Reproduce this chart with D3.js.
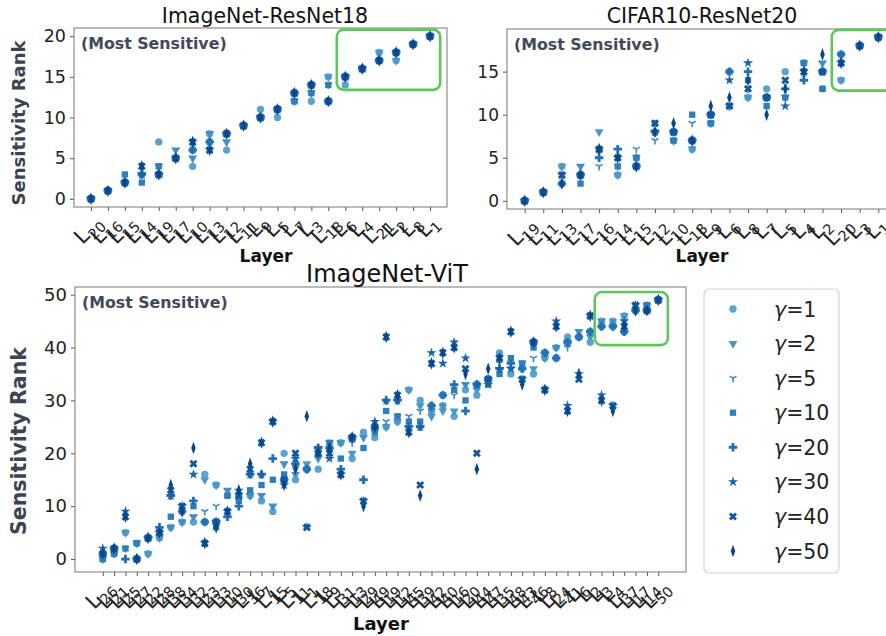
<!DOCTYPE html>
<html lang="en">
<head>
<meta charset="utf-8" />
<title>Sensitivity Rank</title>
<style>
html, body {
	margin: 0;
	padding: 0;
	background: #fff;
}
svg {
	display: block;
	font-family: "DejaVu Sans", sans-serif;
}
</style>
</head>
<body>
<svg width="886" height="636"></svg>

<script src="https://cdn.jsdelivr.net/npm/d3@7"></script>
<script>
// γ values, one series each
var gammas = [1, 2, 5, 10, 20, 30, 40, 50];

// ImageNet-ResNet18 : layer order on x, then ranks per layer (γ order as above)
var r18Layers = ["20", "16", "15", "14", "19", "17", "10", "13", "12", "11", "9",
	"5", "7", "3", "18", "6", "4", "21", "2", "8", "1"];
var r18Ranks = [
	[0, 0, 0, 0, 0, 0, 0, 0],
	[1, 1, 1, 1, 1, 1, 1, 1],
	[2, 2, 2, 3, 2, 2, 2, 2],
	[3, 3, 3, 2, 3, 3, 4, 4],
	[7, 4, 4, 4, 3, 3, 3, 3],
	[5, 6, 6, 5, 5, 5, 5, 5],
	[4, 5, 5, 6, 6, 7, 7, 7],
	[8, 8, 8, 7, 7, 6, 6, 6],
	[6, 7, 7, 8, 8, 8, 8, 8],
	[9, 9, 9, 9, 9, 9, 9, 9],
	[11, 10, 10, 10, 10, 10, 10, 10],
	[10, 11, 11, 11, 11, 11, 11, 11],
	[12, 12, 12, 12, 13, 13, 13, 13],
	[12, 13, 13, 13, 14, 14, 14, 14],
	[15, 15, 14, 14, 12, 12, 12, 12],
	[14, 15, 15, 15, 15, 15, 15, 15],
	[16, 16, 16, 16, 16, 16, 16, 16],
	[18, 18, 17, 17, 17, 17, 17, 17],
	[17, 17, 18, 18, 18, 18, 18, 18],
	[19, 19, 19, 19, 19, 19, 19, 19],
	[20, 20, 20, 20, 20, 20, 20, 20]
];

// CIFAR10-ResNet20
var r20Layers = ["19", "11", "13", "17", "16", "14", "15", "12", "10", "18", "9",
	"6", "8", "7", "5", "4", "2", "20", "3", "1"];
var r20Ranks = [
	[0, 0, 0, 0, 0, 0, 0, 0],
	[1, 1, 1, 1, 1, 1, 1, 1],
	[4, 4, 3, 2, 2, 3, 3, 2],
	[3, 4, 4, 2, 3, 3, 3, 3],
	[6, 8, 4, 6, 5, 6, 6, 6],
	[3, 3, 4, 4, 6, 5, 5, 5],
	[5, 5, 6, 5, 4, 4, 4, 4],
	[8, 8, 7, 9, 8, 8, 9, 8],
	[7, 7, 7, 7, 8, 8, 8, 9],
	[6, 6, 9, 10, 7, 7, 7, 7],
	[9, 9, 10, 9, 10, 10, 10, 11],
	[11, 11, 11, 15, 15, 14, 11, 12],
	[12, 12, 13, 14, 15, 16, 13, 14],
	[13, 12, 12, 11, 12, 12, 12, 10],
	[15, 12, 12, 12, 13, 11, 14, 13],
	[16, 16, 15, 16, 14, 15, 15, 15],
	[13, 16, 16, 13, 15, 15, 15, 17],
	[14, 14, 17, 17, 17, 16, 16, 16],
	[18, 18, 18, 18, 18, 18, 18, 18],
	[19, 19, 19, 19, 19, 19, 19, 19]
];

// ImageNet-ViT
var vitLayers = ["26", "21", "25", "27", "22", "28", "38", "34", "32", "23", "33",
	"10", "30", "36", "7", "15", "5", "11", "1", "18", "9", "31", "13", "29", "49",
	"19", "12", "45", "39", "42", "40", "16", "20", "44", "47", "35", "48", "43",
	"46", "8", "24", "41", "6", "2", "3", "4", "37", "17", "14", "50"];
var vitRanks = [
	[0, 0, 1, 0, 1, 2, 1, 1],
	[1, 1, 1, 1, 2, 2, 2, 2],
	[5, 5, 2, 2, 0, 9, 8, 8],
	[3, 3, 3, 3, 0, 0, 0, 0],
	[1, 1, 4, 4, 4, 4, 4, 4],
	[4, 4, 5, 5, 6, 5, 5, 5],
	[6, 6, 6, 8, 12, 12, 13, 14],
	[7, 7, 7, 9, 9, 10, 10, 9],
	[7, 8, 8, 10, 11, 16, 18, 21],
	[16, 15, 9, 7, 7, 3, 3, 3],
	[14, 14, 10, 6, 7, 7, 7, 6],
	[12, 13, 13, 12, 8, 9, 9, 9],
	[12, 12, 11, 11, 10, 13, 12, 13],
	[12, 12, 12, 13, 16, 16, 17, 18],
	[11, 12, 12, 14, 16, 16, 22, 22],
	[9, 10, 10, 15, 19, 26, 26, 26],
	[20, 18, 18, 16, 15, 14, 15, 14],
	[15, 16, 17, 18, 18, 19, 20, 17],
	[17, 18, 17, 17, 17, 6, 6, 27],
	[17, 19, 20, 20, 21, 21, 20, 20],
	[21, 22, 22, 22, 21, 19, 20, 21],
	[22, 22, 22, 19, 17, 16, 16, 16],
	[19, 20, 22, 23, 23, 23, 23, 23],
	[24, 23, 23, 21, 15, 11, 11, 10],
	[23, 24, 24, 24, 25, 26, 25, 25],
	[25, 25, 26, 28, 30, 30, 42, 42],
	[26, 26, 27, 27, 30, 30, 31, 31],
	[32, 32, 27, 26, 25, 25, 24, 24],
	[30, 29, 28, 26, 25, 25, 14, 12],
	[28, 27, 28, 29, 29, 39, 37, 37],
	[29, 28, 29, 31, 31, 37, 39, 39],
	[27, 28, 31, 32, 33, 41, 40, 40],
	[32, 33, 33, 30, 28, 38, 36, 35],
	[31, 32, 33, 33, 33, 33, 20, 17],
	[34, 34, 34, 33, 34, 33, 34, 36],
	[39, 38, 37, 35, 36, 36, 38, 38],
	[35, 36, 37, 38, 37, 36, 43, 43],
	[36, 37, 36, 37, 36, 34, 34, 33],
	[35, 36, 38, 40, 41, 41, 41, 41],
	[38, 38, 39, 39, 39, 32, 32, 32],
	[40, 40, 40, 38, 38, 45, 44, 44],
	[42, 41, 40, 41, 41, 29, 28, 28],
	[42, 43, 43, 42, 42, 35, 34, 35],
	[41, 42, 43, 43, 43, 46, 46, 46],
	[45, 45, 45, 44, 44, 31, 30, 30],
	[45, 44, 45, 44, 44, 29, 29, 28],
	[46, 46, 45, 43, 43, 45, 44, 44],
	[47, 47, 47, 47, 47, 48, 48, 47],
	[48, 48, 48, 48, 47, 47, 47, 47],
	[49, 49, 49, 49, 49, 49, 49, 49]
];

var svg = d3.select("svg");

// tri_down marker ("1" in matplotlib) is drawn with strokes
var triDown = {
	draw: function(ctx, size) {
		var r = Math.sqrt(size) * 0.9;
		ctx.moveTo(0, 0); ctx.lineTo(0, r);
		ctx.moveTo(0, 0); ctx.lineTo(-r * 0.87, -r * 0.5);
		ctx.moveTo(0, 0); ctx.lineTo(r * 0.87, -r * 0.5);
	}
};

// colours and marker shapes per γ (matplotlib o v 1 s P * X d)
var colors = [0.55, 0.6, 0.65, 0.7, 0.75, 0.8, 0.85, 0.92].map(d3.interpolateBlues);
var markers = [
	{ type: d3.symbolCircle, size: 42, rot: 0 },
	{ type: d3.symbolTriangle, size: 34, rot: 180 },
	{ type: triDown, size: 20, rot: 0, stroke: true },
	{ type: d3.symbolSquare, size: 40, rot: 0 },
	{ type: d3.symbolCross, size: 40, rot: 0 },
	{ type: d3.symbolStar, size: 32, rot: 0 },
	{ type: d3.symbolCross, size: 40, rot: 45 },
	{ type: d3.symbolDiamond, size: 46, rot: 0, sx: 0.62 }
];

function markerTransform(m, px, py) {
	var t = "translate(" + px + "," + py + ")";
	if (m.rot) t += " rotate(" + m.rot + ")";
	if (m.sx) t += " scale(" + m.sx + ",1)";
	return t;
}

function styleMarker(sel, m, c) {
	if (m.stroke) {
		sel.attr("fill", "none").attr("stroke", c).attr("stroke-width", 1.6);
	} else {
		sel.attr("fill", c);
	}
}

function drawPanel(p) {
	var n = p.layers.length;
	var x = d3.scaleLinear().domain(p.xDomain).range([p.left, p.right]);
	var y = d3.scaleLinear().domain(p.yDomain).range([p.bottom, p.top]);
	var g = svg.append("g");

	// y axis
	var ya = g.append("g")
		.attr("transform", "translate(" + p.left + ",0)")
		.call(d3.axisLeft(y).tickValues(p.yTicks).tickSize(4).tickPadding(4));
	ya.select(".domain").remove();
	ya.selectAll("line").attr("stroke", "#555");
	ya.selectAll("text").attr("font-size", p.tickFont).attr("fill", "#222")
		.attr("font-family", "DejaVu Sans");

	// x axis ticks
	var xa = g.append("g")
		.attr("transform", "translate(0," + p.bottom + ")")
		.call(d3.axisBottom(x).tickValues(d3.range(n)).tickSize(4).tickFormat(""));
	xa.select(".domain").remove();
	xa.selectAll("line").attr("stroke", "#555");

	// rotated L_sub labels
	var y0 = p.bottom + 7;
	p.layers.forEach(function(lab, i) {
		var t = g.append("text")
			.attr("font-size", 21)
			.attr("fill", "#222")
			.attr("text-anchor", "middle")
			.attr("y", 3);
		t.append("tspan").text("L");
		t.append("tspan").attr("font-size", 14.5).attr("dy", 5).text(lab);
		var w = t.node().getComputedTextLength();
		var c = (w + 22) / (2 * Math.SQRT2);
		t.attr("transform", "translate(" + x(i) + "," + (y0 + c) + ") rotate(-45)");
	});

	// frame
	g.append("rect")
		.attr("x", p.left).attr("y", p.top)
		.attr("width", p.right - p.left).attr("height", p.bottom - p.top)
		.attr("fill", "none").attr("stroke", "#777").attr("stroke-width", 1);

	// points, lightest series first
	gammas.forEach(function(gm, j) {
		var m = markers[j];
		var path = d3.symbol().type(m.type).size(m.size)();
		g.append("g").selectAll("path")
			.data(p.ranks)
			.join("path")
			.attr("d", path)
			.call(styleMarker, m, colors[j])
			.attr("transform", function(d, i) { return markerTransform(m, x(i), y(d[j])); });
	});

	// highlight box
	var h = p.highlight;
	g.append("rect")
		.attr("x", x(h.x0)).attr("y", y(h.y1))
		.attr("width", x(h.x1) - x(h.x0)).attr("height", y(h.y0) - y(h.y1))
		.attr("rx", 7)
		.attr("fill", "none").attr("stroke", "#5cc85c").attr("stroke-width", 2.6);

	// texts
	g.append("text")
		.attr("x", p.left + 7).attr("y", p.top + 21)
		.attr("font-size", 15.8).attr("font-weight", "bold").attr("fill", "#414959")
		.text("(Most Sensitive)");
	g.append("text")
		.attr("x", p.titleX).attr("y", p.titleY)
		.attr("text-anchor", "middle").attr("font-size", p.titleFont).attr("fill", "#111")
		.text(p.title);
	g.append("text")
		.attr("x", p.xlabelX).attr("y", p.xlabelY)
		.attr("text-anchor", "middle").attr("font-size", p.labelFont)
		.attr("font-weight", "bold").attr("fill", "#111")
		.text("Layer");
	if (p.ylabel) {
		g.append("text")
			.attr("transform", "translate(" + p.ylabelX + "," + p.ylabelY + ") rotate(-90)")
			.attr("text-anchor", "middle").attr("font-size", p.ylabelFont)
			.attr("font-weight", "bold").attr("fill", "#3d4451")
			.text("Sensitivity Rank");
	}
}

drawPanel({
	layers: r18Layers, ranks: r18Ranks,
	left: 74, right: 447, top: 28, bottom: 207,
	xDomain: [-1, 21], yDomain: [-1, 21], yTicks: [0, 5, 10, 15, 20],
	tickFont: 17.5,
	highlight: { x0: 14.5, x1: 20.6, y0: 13.4, y1: 20.8 },
	title: "ImageNet-ResNet18", titleX: 265, titleY: 23, titleFont: 20.5,
	xlabelX: 266, xlabelY: 262, labelFont: 17,
	ylabel: true, ylabelX: 25, ylabelY: 123, ylabelFont: 18
});

drawPanel({
	layers: r20Layers, ranks: r20Ranks,
	left: 507, right: 896, top: 29, bottom: 209,
	xDomain: [-0.95, 19.95], yDomain: [-0.95, 19.95], yTicks: [0, 5, 10, 15],
	tickFont: 17,
	highlight: { x0: 16.5, x1: 20.6, y0: 12.8, y1: 19.85 },
	title: "CIFAR10-ResNet20", titleX: 702, titleY: 23, titleFont: 20.5,
	xlabelX: 702, xlabelY: 262, labelFont: 17,
	ylabel: false
});

drawPanel({
	layers: vitLayers, ranks: vitRanks,
	left: 75, right: 686, top: 287, bottom: 572,
	xDomain: [-2.45, 51.45], yDomain: [-2.45, 51.45], yTicks: [0, 10, 20, 30, 40, 50],
	tickFont: 18,
	highlight: { x0: 43.4, x1: 49.85, y0: 40.45, y1: 50.5 },
	title: "ImageNet-ViT", titleX: 387, titleY: 282, titleFont: 24,
	xlabelX: 381, xlabelY: 630, labelFont: 18,
	ylabel: true, ylabelX: 26, ylabelY: 441, ylabelFont: 20.5
});

// legend
var legend = svg.append("g");
legend.append("rect")
	.attr("x", 704).attr("y", 289).attr("width", 135).attr("height", 284)
	.attr("rx", 5).attr("fill", "#fff").attr("stroke", "#d4d4d4").attr("stroke-width", 1.2);
var ly = d3.scalePoint().domain(gammas).range([309, 551]);
gammas.forEach(function(gm, j) {
	var m = markers[j];
	legend.append("path")
		.attr("d", d3.symbol().type(m.type).size(m.size)())
		.call(styleMarker, m, colors[j])
		.attr("transform", markerTransform(m, 733, ly(gm)));
	var t = legend.append("text")
		.attr("x", 774).attr("y", ly(gm) + 7.5)
		.attr("font-size", 20.5).attr("fill", "#222");
	t.append("tspan").attr("font-style", "italic").text("γ");
	t.append("tspan").text("=" + gm);
});
</script>
</body>
</html>
